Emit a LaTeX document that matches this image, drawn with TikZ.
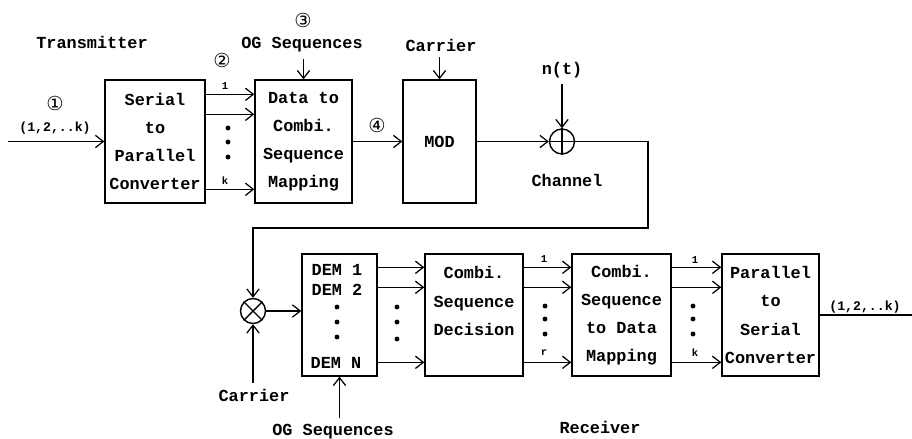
\documentclass[tikz,border=0pt]{standalone}
\usepackage{fontspec}
\usepackage{tikz}
\usetikzlibrary{positioning,arrows.meta,calc}
\newfontfamily\diagfont{Liberation Mono}
\newfontfamily\circfont{DejaVu Sans}

\begin{document}
\begin{tikzpicture}[x=0.02cm,y=-0.02cm,
  every node/.style={font=\diagfont\bfseries\fontsize{9.6}{16}\selectfont},
  blk/.style={draw,line width=0.8pt,inner sep=0pt,align=center},
  arr/.style={line width=0.7pt,-{Straight Barb[length=4.5pt,width=7pt]}},
  lin/.style={line width=0.7pt},
  lbl/.style={font=\diagfont\bfseries\fontsize{6}{7}\selectfont},
  seqlbl/.style={font=\diagfont\bfseries\fontsize{7.5}{9}\selectfont},
  circnum/.style={font=\circfont\fontsize{11}{12}\selectfont},
  sumnode/.style={draw,circle,line width=0.8pt,minimum size=0.5cm,inner sep=0pt}]
\useasboundingbox (0,0) rectangle (912,439);
\node (tx) at (92,42) {Transmitter};
\node[circnum] (n1) at (55,103) {①};
\node[seqlbl] (inlbl) at (55,128) {(1,2,..k)};
\coordinate (in) at (8,141.5);
\node[blk,minimum width=2cm,minimum height=2.46cm] (s2p) at (155,141.5) {Serial\\to\\Parallel\\Converter};
\node[blk,minimum width=1.94cm,minimum height=2.46cm] (d2c) at (303.5,141.5) {Data to\\Combi.\\Sequence\\Mapping};
\node[blk,minimum width=1.46cm,minimum height=2.46cm] (mod) at (439.5,141.5) {MOD};
\node[sumnode] (add) at (562,141.5) {};
\draw[arr] (in) -- (s2p.west);
\node[circnum] (n2) at (222,60) {②};
\node[lbl] (t1) at (225,86) {1};
\node[lbl] (tk) at (225,181) {k};
\foreach \dy in {15,35,110}
  \draw[arr] ($(s2p.north east)+(0,\dy)$) -- ($(d2c.north west)+(0,\dy)$);
\foreach \yy in {128,142,157}
  \fill (228,\yy) circle (1.4pt);
\node[circnum] (n3) at (303,20) {③};
\node (og1) at (302,45) {OG Sequences};
\draw[arr] (og1.south -| d2c.north) -- (d2c.north);
\node[circnum] (n4) at (377,125) {④};
\draw[arr] (d2c.east) -- (mod.west);
\node (car1) at (441,45) {Carrier};
\draw[arr] (car1.south -| mod.north) -- (mod.north);
\node (nt) at (562,70) {n(t)};
\draw[arr] (nt.south) -- (add.north);
\draw[arr] (mod.east) -- (add.west);
\draw[line width=0.8pt] (add.north) -- (add.south) (add.west) -- (add.east);
\node (chan) at (567,180) {Channel};
\node[sumnode] (mult) at (253,311) {};
\draw[line width=0.8pt] (mult.north west) -- (mult.south east) (mult.north east) -- (mult.south west);
\coordinate (c1) at (648,228);
\draw[arr] (add.east) -| (c1) -| (mult.north);
\node (car2) at (254,395) {Carrier};
\draw[arr] (car2.north -| mult.south) -- (mult.south);
\node[blk,minimum width=1.5cm,minimum height=2.44cm] (dem) at (339.5,315) {};
\node (d1) at (337,270) {DEM 1};
\node (d2) at (337,290) {DEM 2};
\node (dn) at (336,363) {DEM N};
\foreach \yy in {307,322,337}
  \fill (337,\yy) circle (1.4pt);
\draw[arr] (mult.east) -- (mult.east -| dem.west);
\node (og2) at (333,432) {OG Sequences};
\draw[arr] (og2.north -| dem.south) -- (dem.south);
\node[blk,minimum width=1.96cm,minimum height=2.44cm] (dec) at (474,315) {Combi.\\Sequence\\Decision\\~};
\node[blk,minimum width=1.98cm,minimum height=2.44cm] (c2d) at (621.5,315) {Combi.\\Sequence\\to Data\\Mapping};
\node[blk,minimum width=1.94cm,minimum height=2.44cm] (p2s) at (770.5,315) {Parallel\\to\\Serial\\Converter};
\foreach \dy in {14,34,109} {
  \draw[arr] ($(dem.north east)+(0,\dy)$) -- ($(dec.north west)+(0,\dy)$);
  \draw[arr] ($(dec.north east)+(0,\dy)$) -- ($(c2d.north west)+(0,\dy)$);
  \draw[arr] ($(c2d.north east)+(0,\dy)$) -- ($(p2s.north west)+(0,\dy)$);
}
\foreach \yy in {307,322,339}
  \fill (397,\yy) circle (1.4pt);
\foreach \yy in {306,319,334} {
  \fill (545,\yy) circle (1.4pt);
  \fill (693,\yy) circle (1.4pt);
}
\node[lbl] (r1) at (544,259) {1};
\node[lbl] (rr) at (544,353) {r};
\node[lbl] (s1) at (695,260) {1};
\node[lbl] (sk) at (695,353) {k};
\node (rx) at (600,427) {Receiver};
\node[seqlbl] (outlbl) at (865,307) {(1,2,..k)};
\coordinate (out) at (912,315);
\draw[lin] (p2s.east) -- (out);
\end{tikzpicture}
\end{document}
